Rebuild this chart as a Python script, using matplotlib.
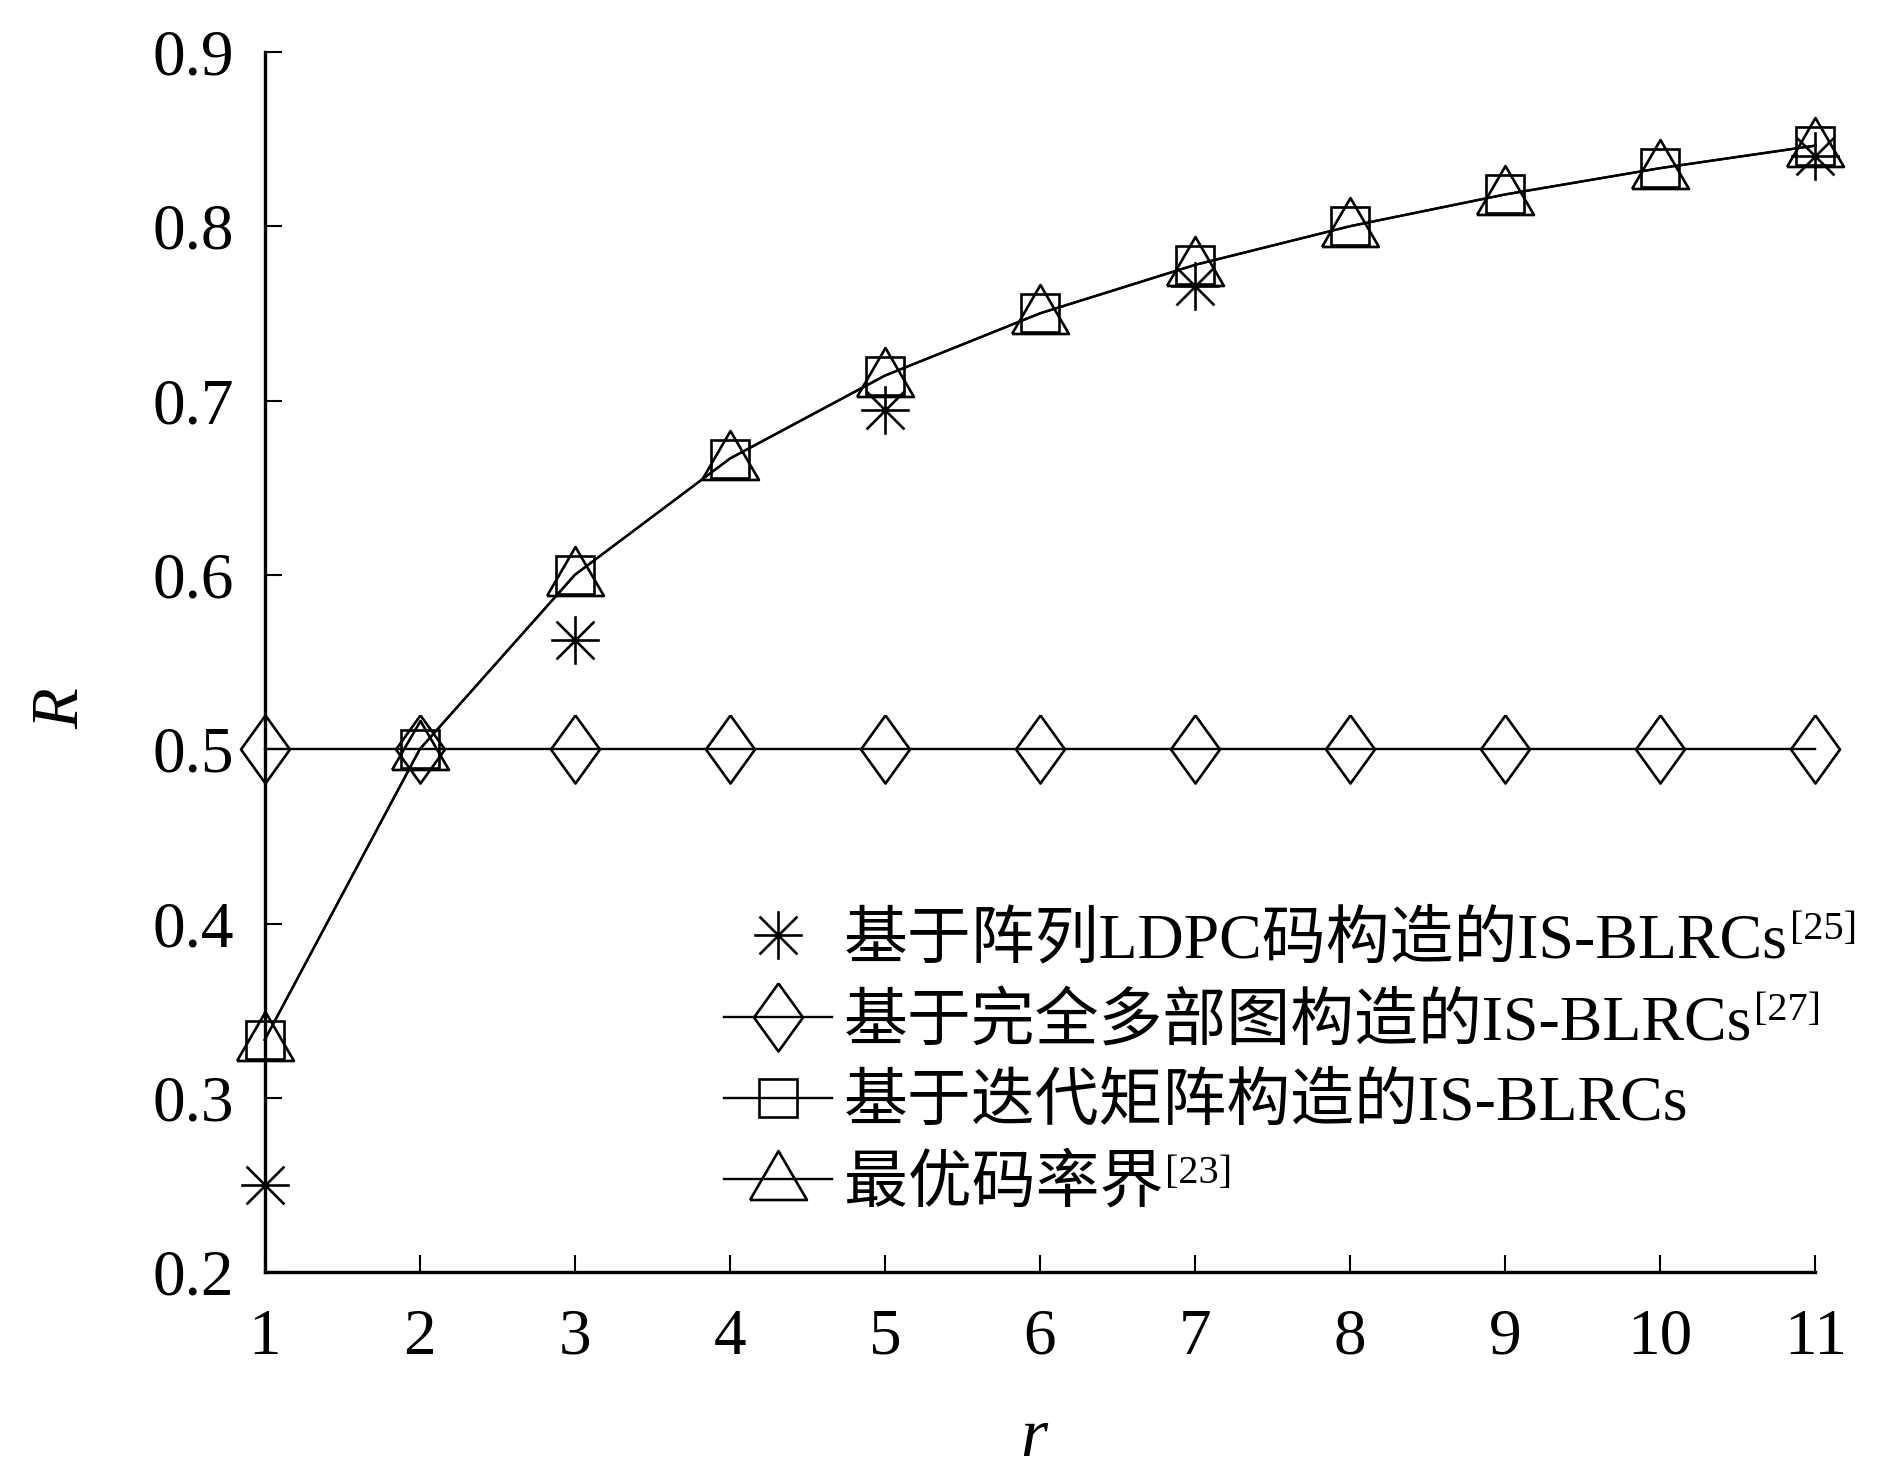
import matplotlib as mpl
mpl.use('Agg')
import matplotlib.pyplot as plt
from matplotlib.path import Path

# dados
r = [1, 2, 3, 4, 5, 6, 7, 8, 9, 10, 11]
r_ldpc = [1, 3, 5, 7, 11]
R_ldpc = [0.25, 0.5625, 0.6944, 0.7656, 0.8403]
R_multi = [0.5, 0.5, 0.5, 0.5, 0.5, 0.5, 0.5, 0.5, 0.5, 0.5, 0.5]
R_iter = [0.3333, 0.5, 0.6, 0.6667, 0.7143, 0.75, 0.7778, 0.8, 0.8182, 0.8333, 0.8462]
R_bound = [0.3333, 0.5, 0.6, 0.6667, 0.7143, 0.75, 0.7778, 0.8, 0.8182, 0.8333, 0.8462]

labels = ['基于阵列LDPC码构造的IS-BLRCs',
          '基于完全多部图构造的IS-BLRCs',
          '基于迭代矩阵构造的IS-BLRCs',
          '最优码率界']
refs = ['[25]', '[27]', None, '[23]']

fontes = ['Liberation Serif', 'Noto Sans CJK SC']
plt.rcParams['font.family'] = fontes
plt.rcParams['mathtext.fontset'] = 'custom'
plt.rcParams['mathtext.it'] = 'Liberation Serif:italic'

# marcadores
d = 0.78
asterisco = Path([(0, -1), (0, 1), (-1, 0), (1, 0), (-d, -d), (d, d), (-d, d), (d, -d)],
                 [Path.MOVETO, Path.LINETO] * 4)
losango = Path([(0, 1), (0.72, 0), (0, -1), (-0.72, 0), (0, 1)])
triangulo = Path([(-1, -0.72), (1, -0.72), (0, 1.0), (-1, -0.72)])

fig = plt.figure(figsize=(18.91, 14.81), dpi=100)
ax = fig.add_axes([0.140, 0.141, 0.820, 0.824])

lw = 1.7
mew = 1.9
ax.plot(r_ldpc, R_ldpc, linestyle='none', marker=asterisco, markersize=35,
        markeredgewidth=mew, color='black', clip_on=False, label=labels[0])
ax.plot(r, R_multi, '-', marker=losango, markersize=49, markeredgewidth=mew,
        markerfacecolor='none', color='black', linewidth=lw, clip_on=False, label=labels[1])
ax.plot(r, R_iter, '-', marker='s', markersize=28, markeredgewidth=mew,
        markerfacecolor='none', color='black', linewidth=lw, clip_on=False, label=labels[2])
ax.plot(r, R_bound, '-', marker=triangulo, markersize=41, markeredgewidth=mew,
        markerfacecolor='none', color='black', linewidth=lw, clip_on=False, label=labels[3])

ax.set_xlim(1, 11)
ax.set_ylim(0.2, 0.9)
ax.set_xticks(r)
ax.set_yticks([0.2, 0.3, 0.4, 0.5, 0.6, 0.7, 0.8, 0.9])
ax.set_yticklabels(['0.2', '0.3', '0.4', '0.5', '0.6', '0.7', '0.8', '0.9'])
ax.spines['top'].set_visible(False)
ax.spines['right'].set_visible(False)
for s in ['left', 'bottom']:
    ax.spines[s].set_linewidth(2.4)
ax.tick_params(axis='both', direction='in', length=12, width=1.5, labelsize=47)
ax.tick_params(axis='y', pad=22)
ax.tick_params(axis='x', pad=26)

fig.text(62 / 1891, 1 - 708 / 1481, '$\\it{R}$', fontsize=48, rotation=90,
         ha='center', va='center')
fig.text(1035 / 1891, 1 - 1439 / 1481, '$\\it{r}$', fontsize=50,
         ha='center', va='center')

leg = ax.legend(loc='upper left', bbox_to_anchor=(724 / 1891, 1 - 912 / 1481),
                bbox_transform=fig.transFigure, frameon=False, fontsize=46,
                borderpad=0, borderaxespad=0, handlelength=1.69, handletextpad=0.19,
                labelspacing=0.34, numpoints=1)

fig.canvas.draw()
for t, ref in zip(leg.get_texts(), refs):
    if ref is None:
        continue
    bb = t.get_window_extent()
    fig.text((bb.x1 + 2) / 1891, (bb.y1 + 1) / 1481, ref, fontsize=29,
             ha='left', va='top')

fig.savefig('out.png', dpi=100)
